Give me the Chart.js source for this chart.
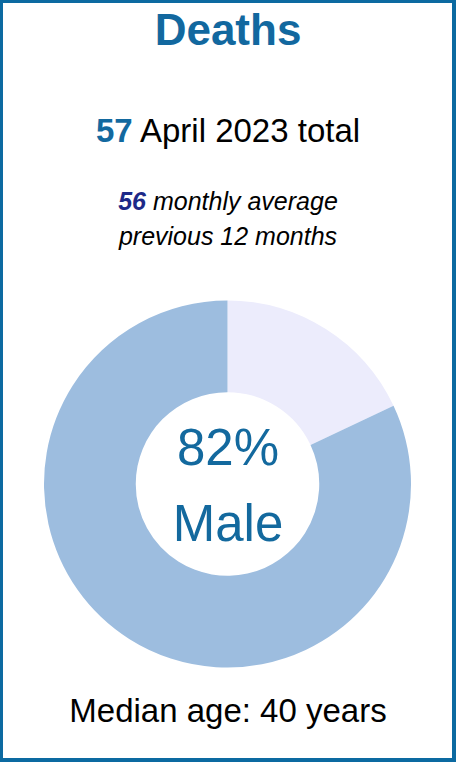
<!DOCTYPE html>
<html>
<head>
<meta charset="utf-8">
<script src="https://cdn.jsdelivr.net/npm/chart.js"></script>
<style>
    html, body { margin: 0; padding: 0; background: #fff; }
    #card {
        position: relative;
        width: 456px;
        height: 762px;
        box-sizing: border-box;
        border: 3px solid #0c6aa1;
        border-right-width: 4px;
        border-bottom-width: 4px;
        font-family: "Liberation Sans", Arial, sans-serif;
        overflow: hidden;
    }
    .line {
        position: absolute;
        left: -3px;
        width: 456px;
        text-align: center;
        line-height: 1;
        white-space: nowrap;
        color: #000;
    }
    #title { top: 5px; font-size: 44px; font-weight: bold; color: #12689f; }
    #total { top: 111px; font-size: 33px; }
    #total b { color: #13699f; }
    #avg1 { top: 186px; font-size: 25px; font-style: italic; }
    #avg1 b { color: #1d2988; }
    #avg2 { top: 221px; font-size: 25px; font-style: italic; }
    #pct { top: 419px; font-size: 51px; color: #13699e; }
    #sex { top: 495px; font-size: 51px; color: #13699e; }
    #median { top: 691px; font-size: 33px; }
    #chartBox {
        position: absolute;
        left: 41px;
        top: 297px;
        width: 367px;
        height: 368px;
    }
</style>
</head>
<body>
<div id="card">
    <div class="line" id="title">Deaths</div>
    <div class="line" id="total"><b>57</b> April 2023 total</div>
    <div class="line" id="avg1"><b>56</b> monthly average</div>
    <div class="line" id="avg2">previous 12 months</div>
    <div id="chartBox"><canvas id="sexChart"></canvas></div>
    <div class="line" id="pct">82%</div>
    <div class="line" id="sex">Male</div>
    <div class="line" id="median">Median age: 40 years</div>
</div>
<script>
    // share of deaths by sex, April 2023
    const labels = ["Female", "Male"];
    const shares = [18, 82];
    const sliceColors = ["#ececfc", "#9dbddf"];

    new Chart(document.getElementById("sexChart"), {
        type: "doughnut",
        data: {
            labels: labels,
            datasets: [{
                data: shares,
                backgroundColor: sliceColors,
                borderWidth: 0,
                hoverBorderWidth: 0,
                hoverOffset: 0
            }]
        },
        options: {
            responsive: true,
            maintainAspectRatio: false,
            animation: false,
            cutout: "50%",
            plugins: {
                legend: { display: false },
                tooltip: { enabled: false }
            }
        }
    });
</script>
</body>
</html>
